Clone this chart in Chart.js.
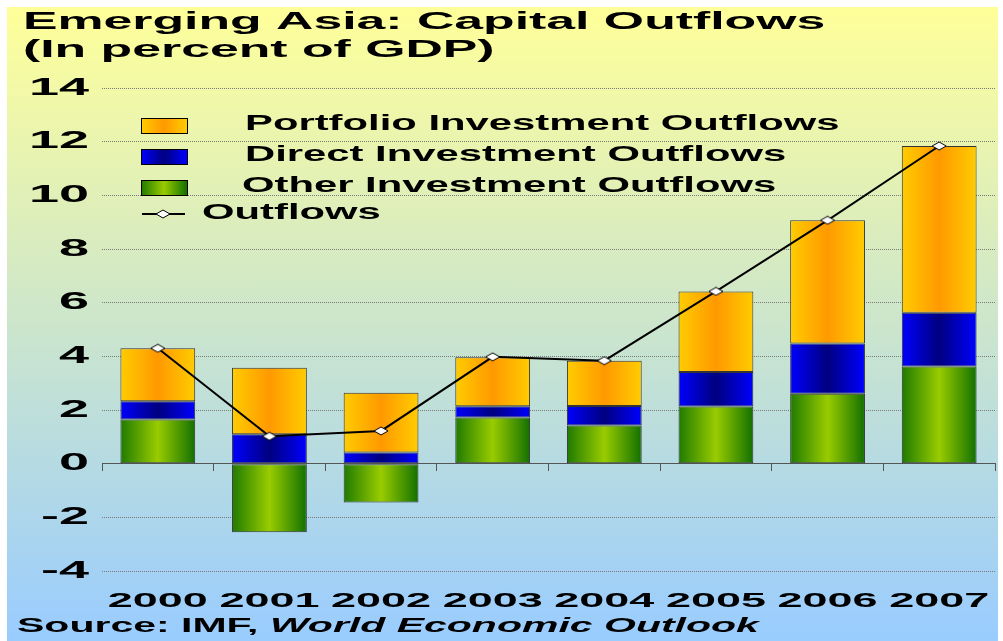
<!DOCTYPE html>
<html>
<head>
<meta charset="utf-8">
<title>Emerging Asia: Capital Outflows</title>
<script src="https://cdn.jsdelivr.net/npm/chart.js@4.4.1/dist/chart.umd.min.js"></script>
<style>
  html, body { margin: 0; padding: 0; background: #fff; }
  #wrap { position: relative; width: 1003px; height: 641px; overflow: hidden; }
  #bg {
    position: absolute; left: 7px; top: 7px; width: 991px; height: 634px;
    background: linear-gradient(to bottom, #ffff99, #99ccff);
  }
  #chart { position: absolute; left: 0; top: 0; }
  #source {
    position: absolute; left: 17px; top: 615px;
    font: bold 20px/20px 'Liberation Sans', Arial, sans-serif;
    white-space: nowrap; color: #000;
    transform: scaleX(2.05); transform-origin: left top;
  }
</style>
</head>
<body>
<div id="wrap">
  <div id="bg"></div>
  <canvas id="chart" width="1003" height="641"></canvas>
  <div id="source">Source: IMF, <i>World Economic Outlook</i></div>
</div>
<script>
// Data (percent of GDP)
const categories = ['2000', '2001', '2002', '2003', '2004', '2005', '2006', '2007'];
const otherOutflows = [1.65, -2.56, -1.45, 1.72, 1.42, 2.13, 2.61, 3.62];
const directOutflows = [0.68, 1.10, 0.42, 0.42, 0.73, 1.29, 1.87, 2.00];
const portfolioOutflows = [1.97, 2.47, 2.22, 1.83, 1.69, 3.00, 4.59, 6.22];
const totalOutflows = [4.30, 1.02, 1.22, 3.98, 3.84, 6.42, 9.07, 11.84];

const yMin = -4;
const yMax = 14;
const yStep = 2;

// gradient colours: edge, middle, edge
const greenStops = ['#1f7a00', '#99cc00', '#127000'];
const blueStops = ['#0000ff', '#000080', '#0000ff'];
const orangeStops = ['#ffcc00', '#ff9900', '#ffcc00'];

const barShare = 0.67;
const fontFamily = "'Liberation Sans', Arial, sans-serif";

const canvas = document.getElementById('chart');
const ctx = canvas.getContext('2d');

// the original slide stretches all its lettering sideways
const plainFillText = ctx.fillText;
ctx.textStretch = 2.25;
ctx.fillText = function(text, x, y, maxWidth) {
  const sx = this.textStretch || 1;
  this.save();
  this.translate(x, y);
  this.scale(sx, 1);
  if (maxWidth === undefined || !isFinite(maxWidth)) {
    plainFillText.call(this, text, 0, 0);
  } else {
    plainFillText.call(this, text, 0, 0, maxWidth / sx);
  }
  this.restore();
};

function makeGradient(c, x0, x1, stops) {
  const g = c.createLinearGradient(x0, 0, x1, 0);
  g.addColorStop(0, stops[0]);
  g.addColorStop(0.5, stops[1]);
  g.addColorStop(1, stops[2]);
  return g;
}

function barFill(stops) {
  return function(context) {
    const xScale = context.chart.scales.x;
    if (context.type !== 'data' || !xScale) return stops[1];
    const cx = xScale.getPixelForValue(context.dataIndex);
    const half = xScale.width / categories.length * barShare / 2;
    if (!isFinite(cx) || !isFinite(half) || half <= 0) return stops[1];
    return makeGradient(context.chart.ctx, cx - half, cx + half, stops);
  };
}

// flattened diamond marker
const diamond = document.createElement('canvas');
diamond.width = 16;
diamond.height = 10;
const dctx = diamond.getContext('2d');
dctx.beginPath();
dctx.moveTo(1, 5);
dctx.lineTo(8, 1);
dctx.lineTo(15, 5);
dctx.lineTo(8, 9);
dctx.closePath();
dctx.fillStyle = '#fff';
dctx.fill();
dctx.strokeStyle = '#000';
dctx.lineWidth = 1;
dctx.stroke();

// Legend inside the plot, top left
const slideLegend = {
  id: 'slideLegend',
  afterDraw(chart) {
    const c = chart.ctx;
    const rows = [
      { label: 'Portfolio Investment Outflows', stops: orangeStops, y: 118, textX: 245 },
      { label: 'Direct Investment Outflows', stops: blueStops, y: 149, textX: 245 },
      { label: 'Other Investment Outflows', stops: greenStops, y: 180, textX: 242 }
    ];
    c.save();
    c.font = 'bold 22px ' + fontFamily;
    c.textBaseline = 'middle';
    c.textAlign = 'left';
    c.textStretch = 1.9;
    rows.forEach(row => {
      c.fillStyle = makeGradient(c, 141, 187, row.stops);
      c.fillRect(141, row.y, 46, 15);
      c.strokeStyle = '#000';
      c.lineWidth = 1;
      c.strokeRect(141.5, row.y + 0.5, 46, 15);
      c.fillStyle = '#000';
      c.fillText(row.label, row.textX, row.y + 6);
    });
    // line entry
    c.strokeStyle = '#000';
    c.lineWidth = 2;
    c.beginPath();
    c.moveTo(142, 214);
    c.lineTo(185, 214);
    c.stroke();
    c.drawImage(diamond, 155, 209);
    c.fillStyle = '#000';
    c.fillText('Outflows', 202, 213);
    c.restore();
    c.textStretch = 2.25;
  }
};

Chart.defaults.font.family = fontFamily;
Chart.defaults.font.weight = 'bold';
Chart.defaults.color = '#000';

const outflowChart = new Chart(ctx, {
  type: 'bar',
  data: {
    labels: categories,
    datasets: [
      {
        type: 'line',
        label: 'Outflows',
        data: totalOutflows,
        stack: 'total',
        order: 0,
        borderColor: '#000',
        borderWidth: 2,
        tension: 0,
        pointStyle: diamond,
        pointRadius: 6,
        pointHoverRadius: 6
      },
      {
        label: 'Other Investment Outflows',
        data: otherOutflows,
        stack: 'parts',
        order: 1,
        backgroundColor: barFill(greenStops),
        borderColor: '#333',
        borderWidth: 1,
        borderSkipped: false
      },
      {
        label: 'Direct Investment Outflows',
        data: directOutflows,
        stack: 'parts',
        order: 1,
        backgroundColor: barFill(blueStops),
        borderColor: '#333',
        borderWidth: 1,
        borderSkipped: false
      },
      {
        label: 'Portfolio Investment Outflows',
        data: portfolioOutflows,
        stack: 'parts',
        order: 1,
        backgroundColor: barFill(orangeStops),
        borderColor: '#333',
        borderWidth: 1,
        borderSkipped: false
      }
    ]
  },
  options: {
    responsive: false,
    animation: false,
    categoryPercentage: 1,
    barPercentage: barShare,
    layout: { padding: { left: 23, right: 5, top: 0, bottom: 28 } },
    plugins: {
      legend: { display: false },
      tooltip: { enabled: false },
      title: {
        display: true,
        text: ['Emerging Asia: Capital Outflows', '(In percent of GDP)'],
        align: 'start',
        font: { size: 23, weight: 'bold' },
        color: '#000',
        padding: { top: 9, bottom: 23.8 }
      }
    },
    scales: {
      x: {
        stacked: true,
        grid: { display: false, drawTicks: false },
        border: { display: false },
        ticks: { padding: 18, maxRotation: 0, autoSkip: false, font: { size: 20 } },
        afterFit(scale) { scale.height = 42; }
      },
      zeroAxis: {
        type: 'category',
        axis: 'x',
        position: { y: 0 },
        offset: true,
        grid: { drawOnChartArea: false, drawTicks: true, tickLength: 7, color: '#555', offset: true },
        border: { color: '#555', width: 1 },
        ticks: { display: false }
      },
      y: {
        stacked: true,
        min: yMin,
        max: yMax,
        ticks: { stepSize: yStep, padding: 13, font: { size: 24 } },
        grid: {
          drawTicks: false,
          lineWidth: 1,
          color: c => (c.tick && c.tick.value === 0) ? 'rgba(0,0,0,0)' : '#7a7a7a'
        },
        border: { display: false, dash: [1, 1] },
        afterFit(scale) { scale.width = 79; }
      }
    }
  },
  plugins: [slideLegend]
});
</script>
</body>
</html>
